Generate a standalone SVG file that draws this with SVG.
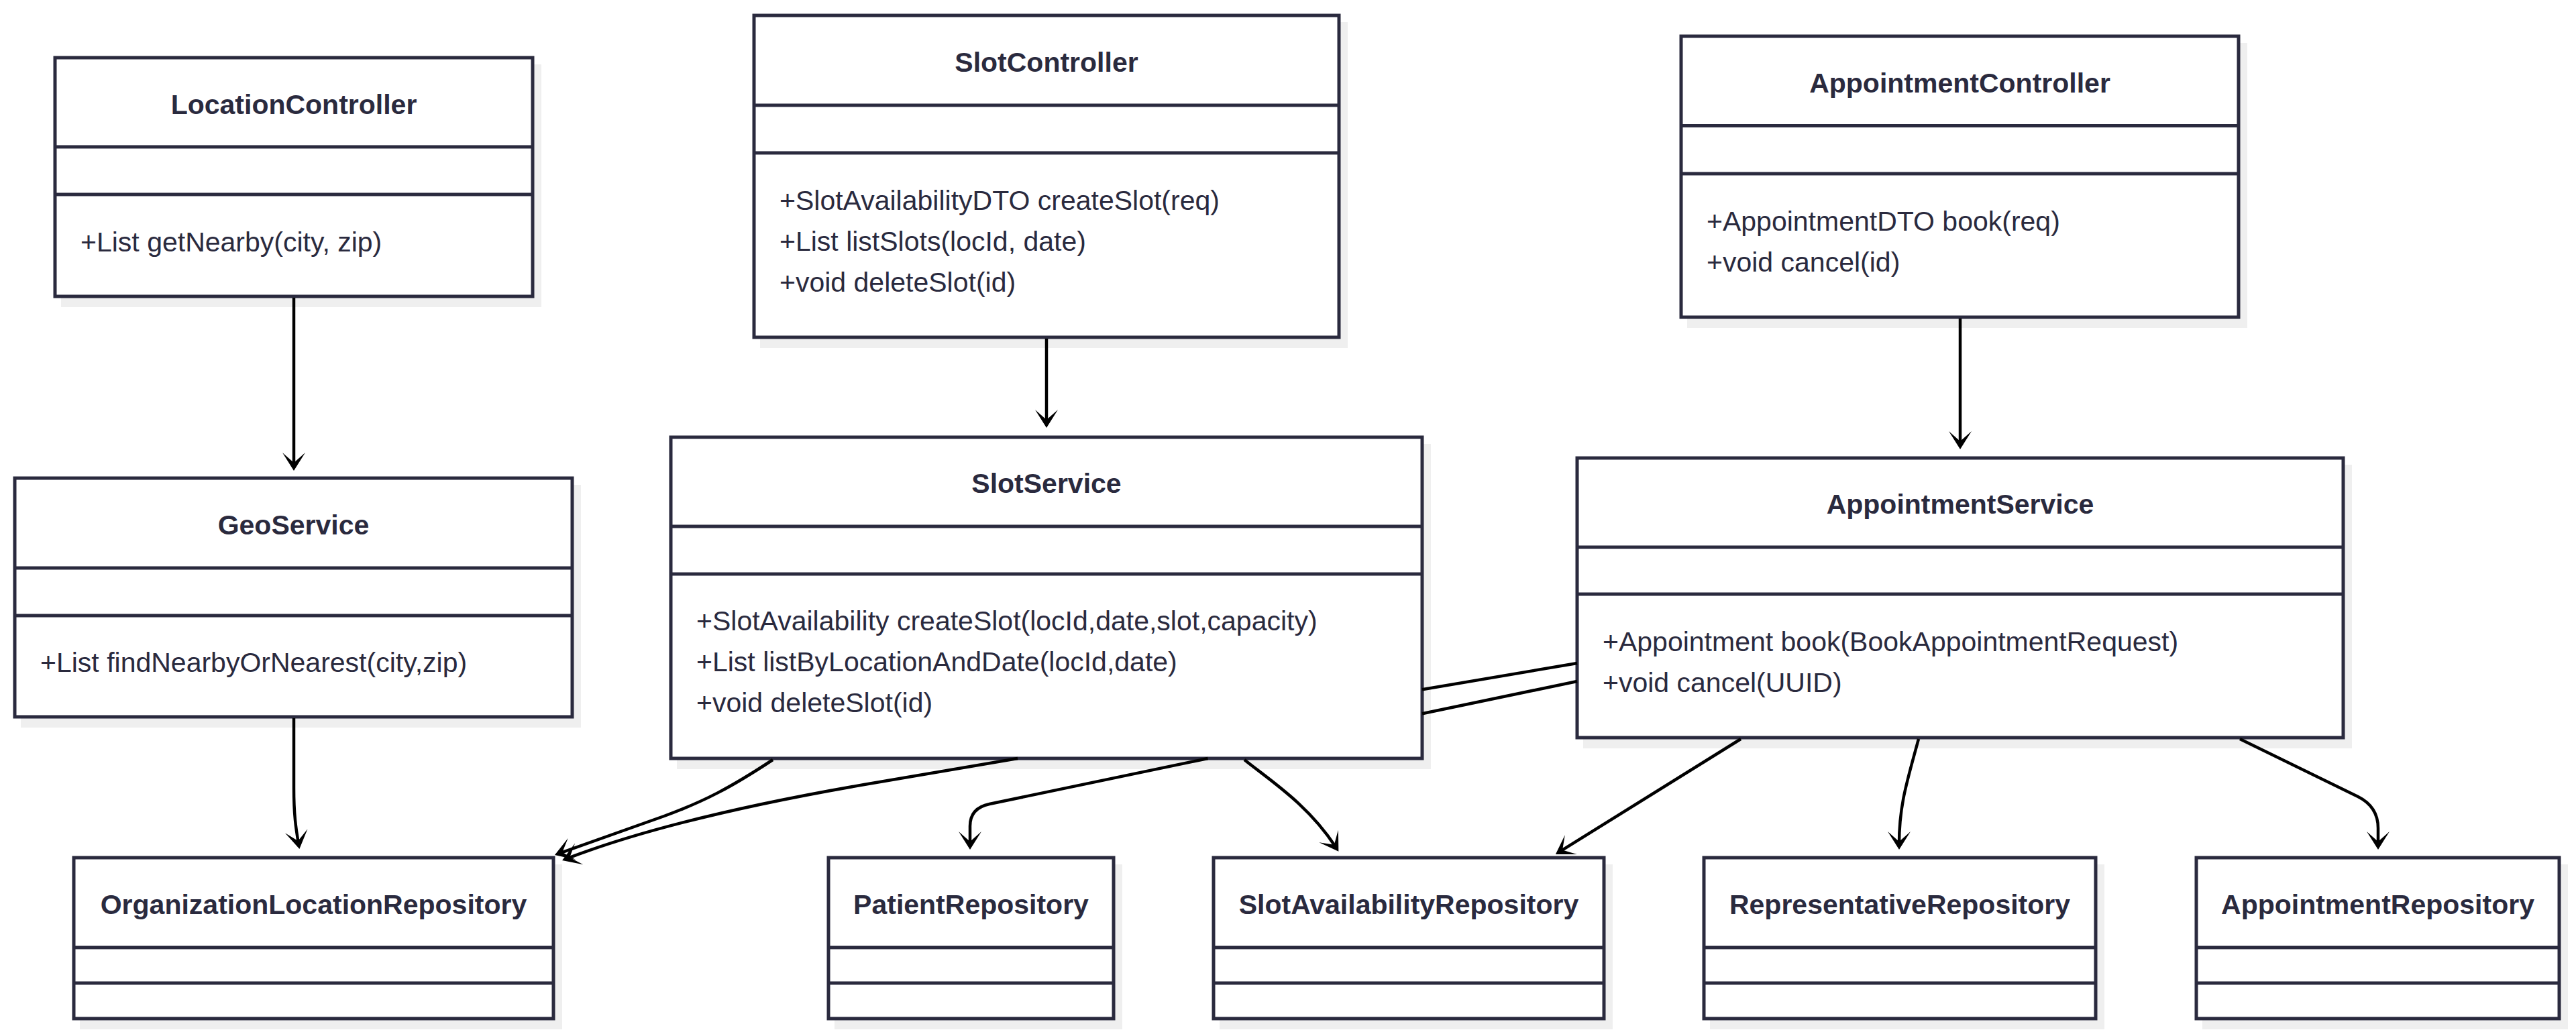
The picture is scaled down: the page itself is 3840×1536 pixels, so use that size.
<svg xmlns="http://www.w3.org/2000/svg" width="3840" height="1536" viewBox="0 0 3840 1536">
<style>
.bg{fill:#ffffff}
.shadow{fill:#efefef}
.box{fill:#ffffff;stroke:#2a2a3e;stroke-width:5}
.sep{stroke:#2a2a3e;stroke-width:5}
.title{font-family:"Liberation Sans",Arial,sans-serif;font-size:41px;font-weight:bold;fill:#2a2a3e;text-anchor:middle}
.m{font-family:"Liberation Sans",Arial,sans-serif;font-size:41px;fill:#2a2a3e}
.edge{fill:none;stroke:#000000;stroke-width:4.5}
</style>
<defs>
<marker id="arr" markerUnits="userSpaceOnUse" viewBox="-22 -20 34 40" markerWidth="34" markerHeight="40" refX="0" refY="0" orient="auto">
<path d="M8,0 L-19,-17 L-4,0 L-19,17 Z" fill="#000000"/>
</marker>
</defs>
<rect class="bg" x="0" y="0" width="3840" height="1536"/>

<g id="LocationController">
<rect class="shadow" x="91" y="96" width="716" height="362"/>
<rect class="box" x="82" y="86" width="712" height="356"/>
<line class="sep" x1="82" y1="219" x2="794" y2="219"/>
<line class="sep" x1="82" y1="290" x2="794" y2="290"/>
<text class="title" x="438" y="170">LocationController</text>
<text class="m" x="120" y="375">+List getNearby(city, zip)</text>
</g>

<g id="GeoService">
<rect class="shadow" x="31" y="723" width="835" height="362"/>
<rect class="box" x="22" y="713" width="831" height="356"/>
<line class="sep" x1="22" y1="847" x2="853" y2="847"/>
<line class="sep" x1="22" y1="918" x2="853" y2="918"/>
<text class="title" x="437.5" y="797">GeoService</text>
<text class="m" x="60" y="1002">+List findNearbyOrNearest(city,zip)</text>
</g>

<g id="SlotController">
<rect class="shadow" x="1133" y="33" width="876" height="486"/>
<rect class="box" x="1124" y="23" width="872" height="480"/>
<line class="sep" x1="1124" y1="157" x2="1996" y2="157"/>
<line class="sep" x1="1124" y1="228" x2="1996" y2="228"/>
<text class="title" x="1560" y="107">SlotController</text>
<text class="m" x="1162" y="313">+SlotAvailabilityDTO createSlot(req)</text>
<text class="m" x="1162" y="374">+List listSlots(locId, date)</text>
<text class="m" x="1162" y="435">+void deleteSlot(id)</text>
</g>

<g id="SlotService">
<rect class="shadow" x="1009" y="662" width="1124" height="485"/>
<rect class="box" x="1000" y="652" width="1120" height="479"/>
<line class="sep" x1="1000" y1="785" x2="2120" y2="785"/>
<line class="sep" x1="1000" y1="856" x2="2120" y2="856"/>
<text class="title" x="1560" y="735">SlotService</text>
<text class="m" x="1038" y="940">+SlotAvailability createSlot(locId,date,slot,capacity)</text>
<text class="m" x="1038" y="1001">+List listByLocationAndDate(locId,date)</text>
<text class="m" x="1038" y="1062">+void deleteSlot(id)</text>
</g>

<g id="AppointmentController">
<rect class="shadow" x="2515" y="64" width="835" height="425"/>
<rect class="box" x="2506" y="54" width="831" height="419"/>
<line class="sep" x1="2506" y1="187.5" x2="3337" y2="187.5"/>
<line class="sep" x1="2506" y1="259" x2="3337" y2="259"/>
<text class="title" x="2921.5" y="138">AppointmentController</text>
<text class="m" x="2544" y="344">+AppointmentDTO book(req)</text>
<text class="m" x="2544" y="405">+void cancel(id)</text>
</g>

<g id="AppointmentService">
<rect class="shadow" x="2360" y="693" width="1146" height="423"/>
<rect class="box" x="2351" y="683" width="1142" height="417"/>
<line class="sep" x1="2351" y1="816" x2="3493" y2="816"/>
<line class="sep" x1="2351" y1="886" x2="3493" y2="886"/>
<text class="title" x="2922" y="766">AppointmentService</text>
<text class="m" x="2389" y="971">+Appointment book(BookAppointmentRequest)</text>
<text class="m" x="2389" y="1032">+void cancel(UUID)</text>
</g>

<g id="OrganizationLocationRepository">
<rect class="shadow" x="119" y="1289" width="719" height="246"/>
<rect class="box" x="110" y="1279" width="715" height="240"/>
<line class="sep" x1="110" y1="1413" x2="825" y2="1413"/>
<line class="sep" x1="110" y1="1466" x2="825" y2="1466"/>
<text class="title" x="467.5" y="1363">OrganizationLocationRepository</text>
</g>

<g id="PatientRepository">
<rect class="shadow" x="1244" y="1289" width="429" height="246"/>
<rect class="box" x="1235" y="1279" width="425" height="240"/>
<line class="sep" x1="1235" y1="1413" x2="1660" y2="1413"/>
<line class="sep" x1="1235" y1="1466" x2="1660" y2="1466"/>
<text class="title" x="1447.5" y="1363">PatientRepository</text>
</g>

<g id="SlotAvailabilityRepository">
<rect class="shadow" x="1818" y="1289" width="586" height="246"/>
<rect class="box" x="1809" y="1279" width="582" height="240"/>
<line class="sep" x1="1809" y1="1413" x2="2391" y2="1413"/>
<line class="sep" x1="1809" y1="1466" x2="2391" y2="1466"/>
<text class="title" x="2100" y="1363">SlotAvailabilityRepository</text>
</g>

<g id="RepresentativeRepository">
<rect class="shadow" x="2549" y="1289" width="588" height="246"/>
<rect class="box" x="2540" y="1279" width="584" height="240"/>
<line class="sep" x1="2540" y1="1413" x2="3124" y2="1413"/>
<line class="sep" x1="2540" y1="1466" x2="3124" y2="1466"/>
<text class="title" x="2832" y="1363">RepresentativeRepository</text>
</g>

<g id="AppointmentRepository">
<rect class="shadow" x="3283" y="1289" width="545" height="246"/>
<rect class="box" x="3274" y="1279" width="541" height="240"/>
<line class="sep" x1="3274" y1="1413" x2="3815" y2="1413"/>
<line class="sep" x1="3274" y1="1466" x2="3815" y2="1466"/>
<text class="title" x="3544.5" y="1363">AppointmentRepository</text>
</g>

<g id="connectors">
<path id="e-lc-geo" class="edge" marker-end="url(#arr)" d="M438,444 L438,694"/>
<path id="e-sc-ss" class="edge" marker-end="url(#arr)" d="M1560,505 L1560,630"/>
<path id="e-ac-as" class="edge" marker-end="url(#arr)" d="M2922,475 L2922,662"/>
<path id="e-geo-olr" class="edge" marker-end="url(#arr)" d="M438,1071 L438,1175 C438,1215 441,1235 445,1258"/>
<path id="e-ss-olr" class="edge" marker-end="url(#arr)" d="M1152,1133 C1090,1174 1050,1195 990,1217 L834.5,1272.3"/>
<path id="e-as-olr" class="edge" marker-end="url(#arr)" d="M2351,989 L2120,1028.3 M1517,1131 L1300,1168 C1100,1202 950,1240 845.5,1280.2"/>
<path id="e-as-pr" class="edge" marker-end="url(#arr)" d="M2351,1016 L2120,1064.3 M1800.5,1131 L1475,1199 Q1446,1205 1446,1232 L1446,1259"/>
<path id="e-ss-sar" class="edge" marker-end="url(#arr)" d="M1855,1133 C1895,1165 1950,1200 1991,1263"/>
<path id="e-as-sar" class="edge" marker-end="url(#arr)" d="M2595,1102 L2325.7,1269.7"/>
<path id="e-as-rr" class="edge" marker-end="url(#arr)" d="M2860,1102 C2843,1165 2831,1200 2831,1259"/>
<path id="e-as-ar" class="edge" marker-end="url(#arr)" d="M3339,1102 L3515,1188 Q3545,1203 3545,1235 L3545,1259"/>
</g>
</svg>
